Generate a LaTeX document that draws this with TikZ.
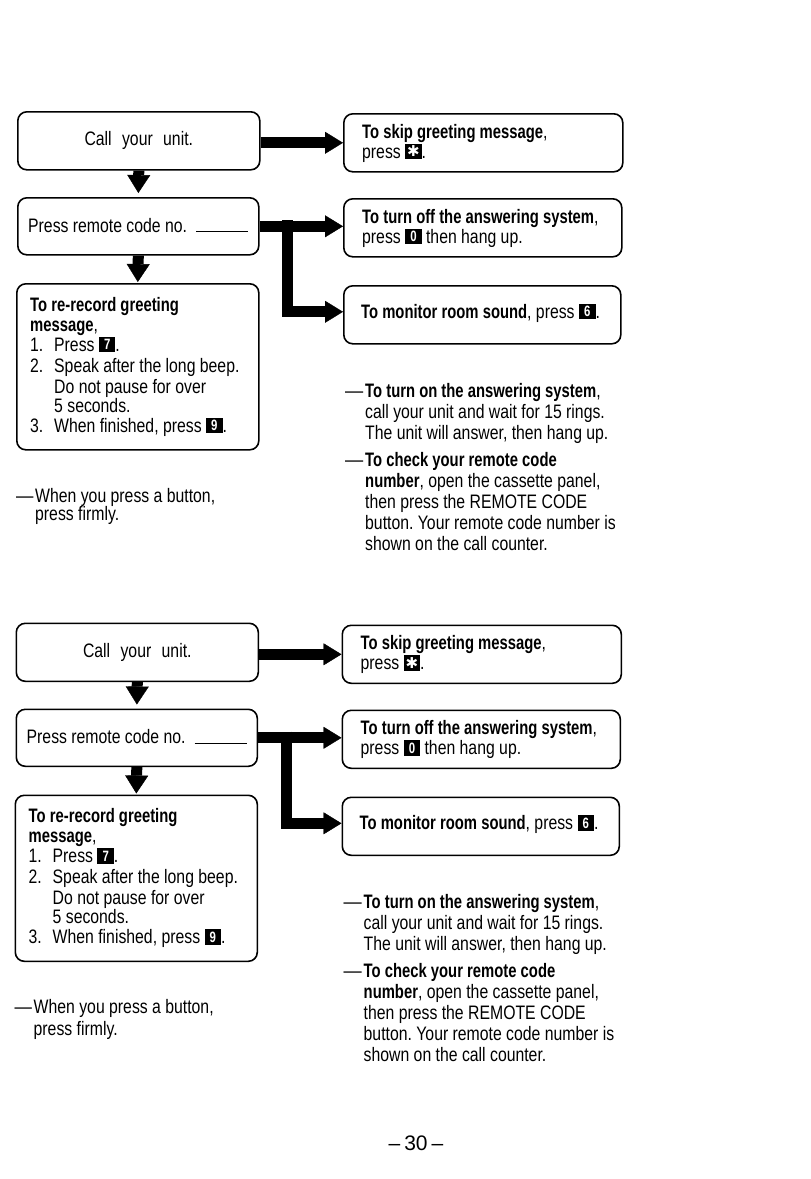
\documentclass[tikz,border=0pt]{standalone}
\usepackage{fontspec}
\setmainfont{Liberation Sans}[UprightFeatures={FakeStretch=0.81}, BoldFeatures={FakeStretch=0.76}]
\newfontfamily\dejavu{DejaVu Sans}
\newfontfamily\pgfont{Liberation Sans}
\usetikzlibrary{arrows.meta,calc}
\newcommand\keyb[1]{\begingroup\setlength\fboxsep{0pt}\colorbox{black}{\rule[-1pt]{0pt}{15.5pt}\makebox[16.5pt]{\color{white}\fontsize{15}{15}\selectfont\bfseries\raisebox{1.3pt}{#1}}}\endgroup}
\newcommand\dashw{\makebox[20pt][l]{\scalebox{1.15}[1]{—}}}
\tikzset{
  box/.style={draw, line width=1.6pt, rounded corners=9pt, anchor=north west, inner sep=0pt, font=\fontsize{19.5}{21}\selectfont},
  txt/.style={anchor=base west, inner sep=0pt, font=\fontsize{19.5}{21}\selectfont\frenchspacing},
  bigarrow/.style={line width=11pt, -{Triangle[width=23pt,length=18pt,line width=0.4pt]}},
  harrow/.style={line width=11pt, -{Triangle[width=22pt,length=18pt,line width=0.4pt]}},
}
\newcommand\panel[2]{%
  \node[box, minimum width=242pt, minimum height=58pt] (A) at (17,111) {Call\hspace{6pt} your\hspace{6pt} unit.};
  \node[box, minimum width=241pt, minimum height=57pt] (B) at (17,197) {};
  \node[txt] (Bt) at (28,232) {Press remote code no.\hspace{9pt}\rule{52pt}{0.9pt}};
  \node[box, minimum width=242pt, minimum height=166pt] (C) at (16,283) {};
  \node[txt] (C1) at (30,311) {\textbf{To re-record greeting}};
  \node[txt] (C2) at (30,331) {\textbf{message},};
  \node[txt] (C3) at (30,351) {\makebox[24pt][l]{1.}Press \keyb{7}.};
  \node[txt] (C4) at (30,372) {\makebox[24pt][l]{2.}Speak after the long beep.};
  \node[txt] (C5) at (54,393) {Do not pause for over};
  \node[txt] (C6) at (54,412) {5 seconds.};
  \node[txt] (C7) at (30,432) {\makebox[24pt][l]{3.}When finished, press \keyb{9}.};
  \node[box, minimum width=279pt, minimum height=58pt] (D) at (343,113) {};
  \node[txt] (D1) at (362,138) {\textbf{To skip greeting message},};
  \node[txt] (D2) at (362,158) {press \keyb{\dejavu ✱}.};
  \node[box, minimum width=278pt, minimum height=58pt] (E) at (343,198) {};
  \node[txt] (E1) at (362,223) {\textbf{To turn off the answering system},};
  \node[txt] (E2) at (362,243) {press \keyb{0} then hang up.};
  \node[box, minimum width=277pt, minimum height=58pt] (F) at (343,285) {};
  \node[txt] (F1) at (361,318) {\textbf{To monitor room sound}, press \keyb{6}.};
  \node[txt] (R1) at (345,397) {\dashw\textbf{To turn on the answering system},};
  \node[txt] (R2) at (365,418) {call your unit and wait for 15 rings.};
  \node[txt] (R3) at (365,439) {The unit will answer, then hang up.};
  \node[txt] (R4) at (345,466) {\dashw\textbf{To check your remote code}};
  \node[txt] (R5) at (365,487) {\textbf{number}, open the cassette panel,};
  \node[txt] (R6) at (365,508) {then press the REMOTE CODE};
  \node[txt] (R7) at (365,529) {button. Your remote code number is};
  \node[txt] (R8) at (365,550) {shown on the call counter.};
  \node[txt] (L1) at (16,#1) {\makebox[19pt][l]{\scalebox{1.1}[1]{—}}When you press a button,};
  \node[txt] (L2) at (35,#2) {press firmly.};
  \coordinate (j) at (287.5,225.5);
  \draw[bigarrow, shorten >=4pt] (A.south) -- (B.north);
  \draw[bigarrow, shorten >=1pt] (B.south) -- (C.north);
  \draw[harrow] (A.east |- D.west) -- (D.west);
  \draw[harrow] (B.east) -- (B.east -| E.west);
  \draw[harrow] ([yshift=5.5pt]j) |- ([yshift=3pt]F.west);
}
\begin{document}
\begin{tikzpicture}[x=1pt,y=-1pt]
  \useasboundingbox (0,0) rectangle (811,1179);
  \fill[white] (0,0) rectangle (811,1179);
  \begin{scope}[name prefix=p1-]
    \panel{502}{520}
  \end{scope}
  \begin{scope}[name prefix=p2-, shift={(-1.5,511.5)}]
    \panel{501.5}{523.5}
  \end{scope}
  \node[anchor=base, inner sep=0pt, font=\pgfont\fontsize{21}{21}\selectfont] (pg) at (416,1150) {–\hspace{4pt}30\hspace{4pt}–};
\end{tikzpicture}
\end{document}
